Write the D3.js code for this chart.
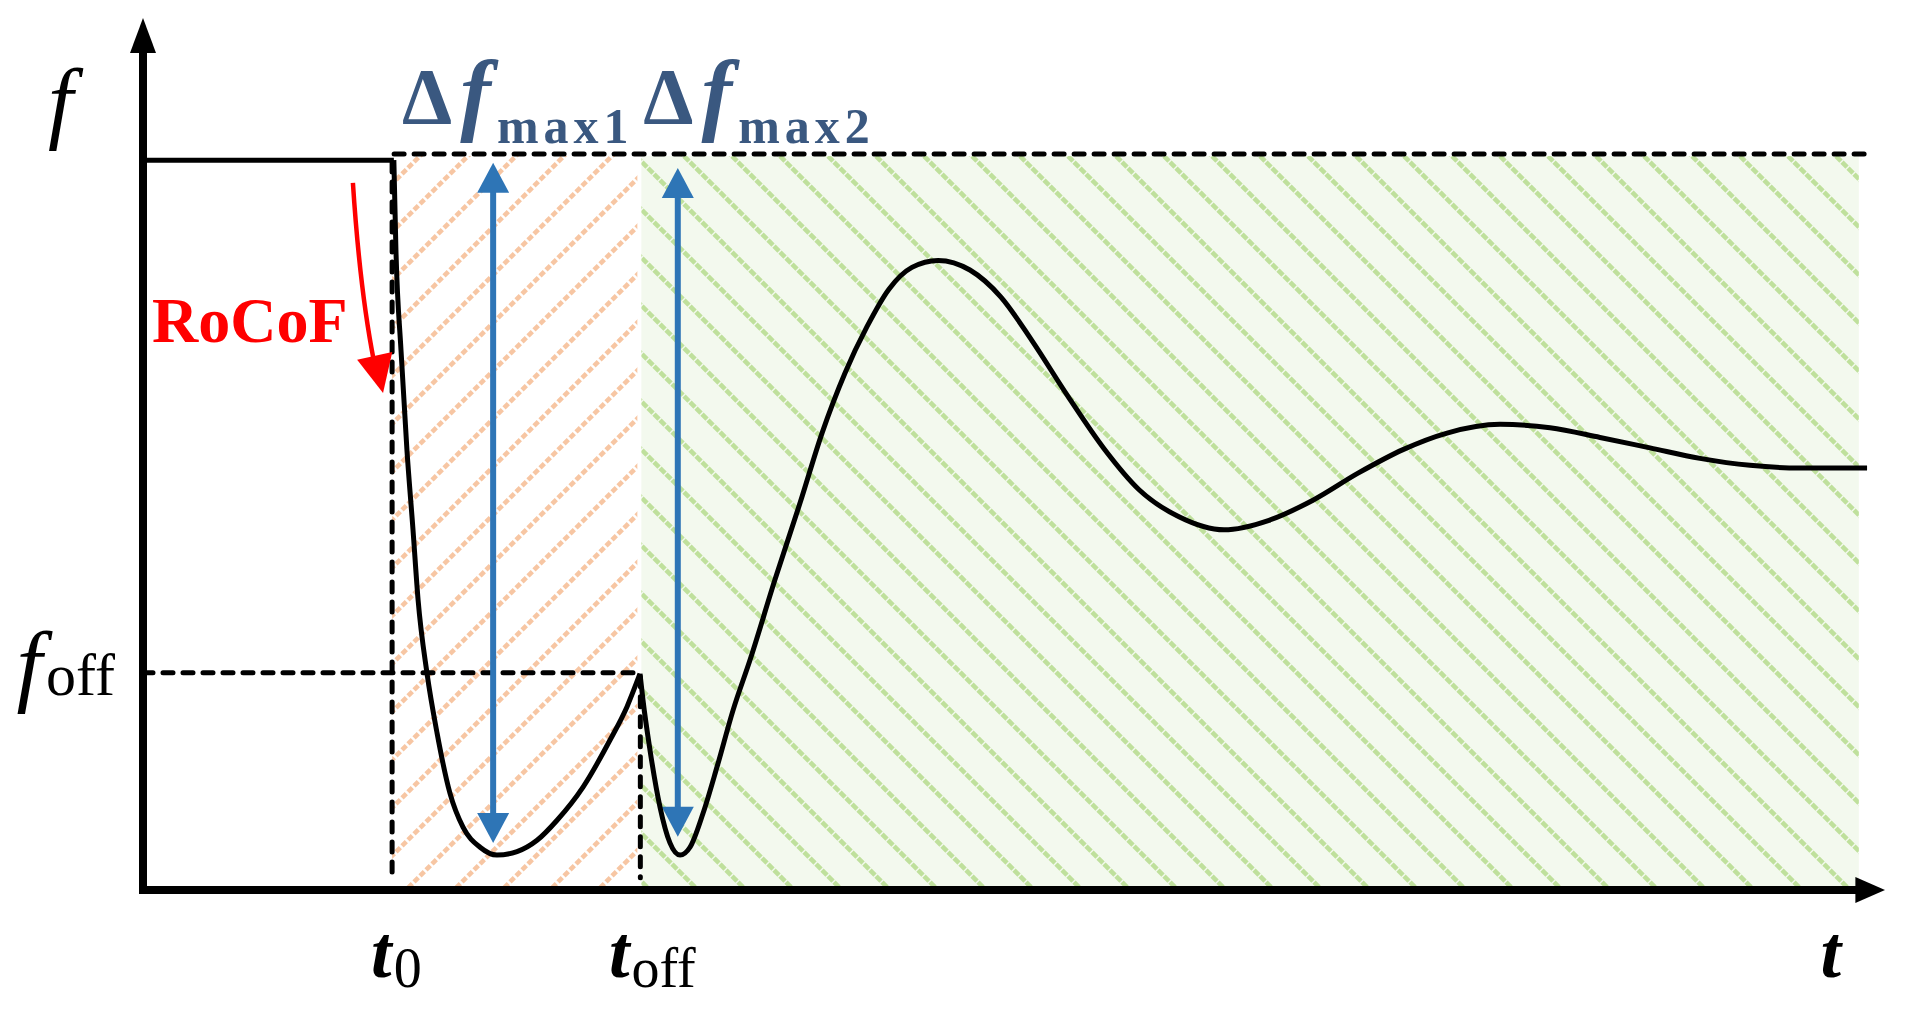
<!DOCTYPE html>
<html><head><meta charset="utf-8">
<script src="https://cdn.jsdelivr.net/npm/d3@7"></script>
<style>html,body{margin:0;padding:0;background:#fff;} svg{display:block;}</style>
</head><body><svg id="c" width="1909" height="1017"></svg>
<script>
// ---------------- data (abstract units 0..100) ----------------
const timePts = [0, 14.4, 14.52, 14.81, 15.15, 15.5, 15.79, 16.3, 16.88, 17.62, 18.37, 19.35, 20.32, 21.47, 22.62, 23.77, 25.26, 26.81, 27.78, 28.53,
  28.7, 29.1, 29.68, 30.25, 30.83, 31.4, 32.15, 32.95, 33.87, 34.85, 36.28, 37.72, 38.98, 40.3, 41.56, 42.82, 44.14, 45.64, 47.47, 49.25,
  51.03, 53.1, 55.17, 57.18, 59.47, 62.06, 64.64, 67.16, 69.75, 72.33, 74.86, 77.9, 80.77, 83.64, 86.51, 89.38, 92.25, 95.12, 98.97];
const freqPts = [83.7, 83.7, 73.4, 61.9, 50.5, 41.3, 33.3, 24.9, 18.0, 11.1, 7.2, 4.9, 4.0, 4.4, 5.7, 8.0, 11.8, 17.2, 21.0, 24.8,
  21.8, 16.1, 9.5, 5.4, 4.0, 4.9, 8.8, 14.1, 20.6, 26.4, 35.6, 44.4, 52.4, 59.3, 64.6, 68.9, 71.4, 72.2, 71.1, 68.0,
  63.0, 56.6, 50.6, 45.9, 42.8, 41.3, 42.4, 44.7, 47.8, 50.5, 52.4, 53.4, 53.0, 51.9, 50.7, 49.5, 48.7, 48.4, 48.4];
const segBreaks = [1, 19];            // indices of sharp corners (t0 step, t_off cusp)
const T0 = 14.3, TOFF = 28.55, T_REGION_END = 98.5, T_LINE_END = 99.0;
const F_NOM = 84.4, F_OFF = 24.9, F_FLOOR = 0.45, F_DASH_BOTTOM = 1.4;
const arrowTimes = [20.1, 30.7];
const arrowTops = [83.4, 82.8];
const arrowBottoms = [5.4, 6.1];
const deltaSubs = ["max1", "max2"];
const xTickMain = ["t", "t", "t"];
const xTickSubs = ["0", "off", ""];
const xTickPos = [T0, 27.95, 97.5];
const yTickMain = ["f"];
const yTickSubs = ["off"];
const rocofPath = [[12.05, 81.1], [12.45, 68.8], [13.26, 60.6]];
const rocofTip = [13.78, 57.0];

// ---------------- scales ----------------
const svg = d3.select("#c");
const x = d3.scaleLinear().domain([0, 100]).range([143, 1885]);
const y = d3.scaleLinear().domain([0, 100]).range([890, 18]);
const SERIF = "'Liberation Serif','Times New Roman',serif";

const defs = svg.append("defs");
// orange hatch "/"
const po = defs.append("pattern").attr("id", "hatchO").attr("patternUnits", "userSpaceOnUse")
  .attr("width", 48).attr("height", 48);
po.append("path").attr("d", "M-12,12 L12,-12 M0,48 L48,0 M36,60 L60,36")
  .attr("stroke", "#f7c6a3").attr("stroke-width", 4.6).attr("stroke-dasharray", "6.1 2.39").attr("fill", "none");
// green hatch "\"
const pg = defs.append("pattern").attr("id", "hatchG").attr("patternUnits", "userSpaceOnUse")
  .attr("width", 48).attr("height", 48);
pg.append("rect").attr("width", 48).attr("height", 48).attr("fill", "#f3f9ee");
pg.append("path").attr("d", "M0,0 L48,48 M-12,36 L12,60 M36,-12 L60,12")
  .attr("stroke", "#bfe09c").attr("stroke-width", 4.6).attr("stroke-dasharray", "7.1 1.39").attr("fill", "none");

// regions
svg.append("rect").attr("x", x(T0)).attr("y", y(F_NOM) + 2)
  .attr("width", x(TOFF) - x(T0) - 3).attr("height", y(F_FLOOR) - y(F_NOM) - 2).attr("fill", "url(#hatchO)");
svg.append("rect").attr("x", x(TOFF) + 1).attr("y", y(F_NOM) + 2)
  .attr("width", x(T_REGION_END) - x(TOFF) - 1).attr("height", y(F_FLOOR) - y(F_NOM) - 2).attr("fill", "url(#hatchG)");

// dashed guide lines
const dash = {stroke: "#000", "stroke-width": 5, "stroke-dasharray": "10 10", "stroke-linecap": "round"};
function dline(x1, y1, x2, y2) {
  const l = svg.append("line").attr("x1", x1).attr("y1", y1).attr("x2", x2).attr("y2", y2);
  Object.entries(dash).forEach(([k, v]) => l.attr(k, v));
}
dline(x(T0) + 2, y(F_NOM), x(T_LINE_END), y(F_NOM));
dline(x(0), y(F_OFF), x(TOFF), y(F_OFF));
dline(x(T0), y(F_NOM) + 8, x(T0), y(F_DASH_BOTTOM));
dline(x(TOFF), y(F_OFF) + 4, x(TOFF), y(F_DASH_BOTTOM));

// blue double arrows
arrowTimes.forEach((t, i) => {
  const cx = x(t), yt = y(arrowTops[i]), yb = y(arrowBottoms[i]), hw = 16, hh = 30;
  svg.append("line").attr("x1", cx).attr("x2", cx).attr("y1", yt + hh - 2).attr("y2", yb - hh + 2)
    .attr("stroke", "#2e75b6").attr("stroke-width", 6);
  svg.append("path").attr("d", `M${cx},${yt} L${cx - hw},${yt + hh} L${cx + hw},${yt + hh} Z`).attr("fill", "#2e75b6");
  svg.append("path").attr("d", `M${cx},${yb} L${cx - hw},${yb - hh} L${cx + hw},${yb - hh} Z`).attr("fill", "#2e75b6");
});

// frequency curve (three smooth pieces joined at sharp corners)
const pts = timePts.map((t, i) => [t, freqPts[i]]);
const bounds = [0, ...segBreaks, pts.length - 1];
const lineGen = d3.line().x(d => x(d[0])).y(d => y(d[1]));
for (let s = 0; s < bounds.length - 1; s++) {
  const seg = pts.slice(bounds[s], bounds[s + 1] + 1);
  svg.append("path").attr("d", lineGen.curve(s === 0 ? d3.curveLinear : d3.curveMonotoneX)(seg))
    .attr("fill", "none").attr("stroke", "#000").attr("stroke-width", 5)
    .attr("stroke-linejoin", "miter").attr("stroke-linecap", "butt");
}

// axes
svg.append("line").attr("x1", x(0)).attr("x2", x(0)).attr("y1", y(0) + 4).attr("y2", y(96)).attr("stroke", "#000").attr("stroke-width", 8);
svg.append("path").attr("d", `M${x(0)},${y(100)} L${x(0) - 13},${y(96)} L${x(0) + 13},${y(96)} Z`).attr("fill", "#000");
svg.append("line").attr("x1", x(0) - 4).attr("x2", x(98.4)).attr("y1", y(0)).attr("y2", y(0)).attr("stroke", "#000").attr("stroke-width", 8);
svg.append("path").attr("d", `M${x(100)},${y(0)} L${x(98.3)},${y(0) - 13} L${x(98.3)},${y(0) + 13} Z`).attr("fill", "#000");

// axis labels
svg.append("text").attr("x", x(0) - 95).attr("y", y(F_NOM) - 22).attr("font-family", SERIF)
  .attr("font-style", "italic").attr("font-size", 90).text(yTickMain[0]);
const fo = svg.append("text").attr("x", x(0) - 28).attr("y", y(F_OFF) + 22).attr("text-anchor", "end").attr("font-family", SERIF);
fo.append("tspan").attr("font-style", "italic").attr("font-size", 92).text(yTickMain[0]);
fo.append("tspan").attr("font-size", 60).attr("dx", 4).text(yTickSubs[0]);

xTickPos.forEach((p, i) => {
  const t = svg.append("text").attr("x", x(p) - 21).attr("y", 977).attr("font-family", SERIF);
  t.append("tspan").attr("font-style", "italic").attr("font-weight", "bold").attr("font-size", 74).text(xTickMain[i]);
  if (xTickSubs[i]) t.append("tspan").attr("font-size", 56).attr("dy", 10).attr("dx", 2).text(xTickSubs[i]);
});

// delta labels
[T0, TOFF].forEach((p, i) => {
  const t = svg.append("text").attr("x", x(p) + (i === 0 ? 10 : 3)).attr("y", y(F_NOM) - 30)
    .attr("font-family", SERIF).attr("fill", "#3a5880").attr("font-weight", "bold");
  t.append("tspan").attr("font-size", 80).text("Δ");
  t.append("tspan").attr("font-size", 92).attr("font-style", "italic").attr("dx", 8).text("f");
  t.append("tspan").attr("font-size", 50).attr("dy", 19).attr("dx", 6).attr("letter-spacing", 5).text(deltaSubs[i]);
});

// RoCoF annotation
svg.append("text").attr("x", x(0) + 9).attr("y", 342).attr("font-family", SERIF).attr("font-weight", "bold")
  .attr("font-size", 64).attr("fill", "#ff0000").text("RoCoF");
const rp = rocofPath.map(d => [x(d[0]), y(d[1])]);
svg.append("path").attr("d", `M${rp[0][0]},${rp[0][1]} Q${rp[1][0]},${rp[1][1]} ${rp[2][0]},${rp[2][1]}`)
  .attr("fill", "none").attr("stroke", "#ff0000").attr("stroke-width", 4.5);
const tip = [x(rocofTip[0]), y(rocofTip[1])];
const dx = tip[0] - rp[1][0], dy = tip[1] - rp[1][1], L = Math.hypot(dx, dy), ux = dx / L, uy = dy / L;
const bx = tip[0] - ux * 38, by = tip[1] - uy * 38;
svg.append("path").attr("d", `M${tip[0]},${tip[1]} L${bx - uy * 18},${by + ux * 18} L${bx + uy * 18},${by - ux * 18} Z`).attr("fill", "#ff0000");
</script></body></html>
